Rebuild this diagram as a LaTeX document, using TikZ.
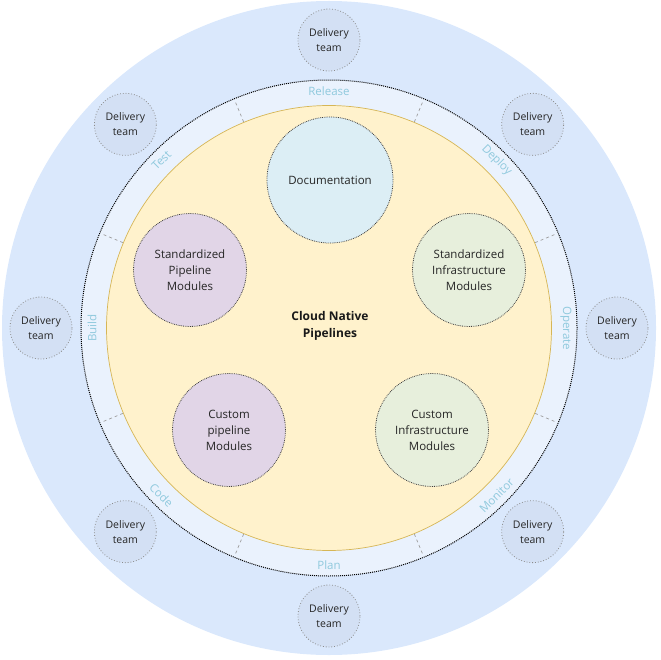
\documentclass[tikz,border=0pt]{standalone}
\usepackage{fontspec}
\setmainfont{Open Sans}
\usetikzlibrary{calc}
\definecolor{outerblue}{HTML}{DAE8FC}
\definecolor{ringfill}{HTML}{EAF2FD}
\definecolor{coreyellow}{HTML}{FFF2CC}
\definecolor{coreborder}{HTML}{D6B656}
\definecolor{dtfill}{HTML}{D3E0F4}
\definecolor{docfill}{HTML}{DCEEF5}
\definecolor{purplefill}{HTML}{E1D5E7}
\definecolor{greenfill}{HTML}{E7EFDC}
\definecolor{lblcol}{HTML}{8FC9DD}
\tikzset{
  dtbox/.style={circle, draw=gray!90, dotted, line width=0.8pt, fill=dtfill, minimum size=62pt, inner sep=0pt, align=center,
    font=\fontsize{10.5}{15}\selectfont, text=black!85},
  modbox/.style={circle, draw=black!75, densely dotted, line width=0.8pt, minimum size=113pt, inner sep=0pt, align=center,
    font=\fontsize{11.5}{16}\selectfont, text=black!85},
  stagelbl/.style={font=\fontsize{11.5}{13}\selectfont, text=lblcol, inner sep=0pt},
  sepline/.style={draw=gray!75, dashed, line width=0.7pt}
}
\begin{document}
\begin{tikzpicture}[x=1pt,y=-1pt]
\useasboundingbox (0,0) rectangle (660,660);
\coordinate (C) at (329,328);
\fill[outerblue] (C) circle (327pt);
\draw[fill=ringfill, densely dotted, line width=1pt] (C) circle (248pt);
\node[circle, fill=coreyellow, draw=coreborder, line width=0.7pt, minimum size=445pt, inner sep=0pt] (core) at (C) {};
\foreach \a in {22.5,67.5,...,337.5}
  \draw[sepline] ($(C)+(\a:223pt)$) -- ($(C)+(\a:247pt)$);
% stage labels
\node[stagelbl] (release) at ($(C)+(90:237pt)$) {Release};
\node[stagelbl, rotate=-45] (deploy) at ($(C)+(45:237pt)$) {Deploy};
\node[stagelbl, rotate=-90] (operate) at ($(C)+(0:237pt)$) {Operate};
\node[stagelbl, rotate=45] (monitor) at ($(C)+(-45:237pt)$) {Monitor};
\node[stagelbl] (plan) at ($(C)+(-90:237pt)$) {Plan};
\node[stagelbl, rotate=-45] (code) at ($(C)+(-135:237pt)$) {Code};
\node[stagelbl, rotate=90] (build) at ($(C)+(180:237pt)$) {Build};
\node[stagelbl, rotate=45] (test) at ($(C)+(135:237pt)$) {Test};
% delivery teams
\foreach \a/\n in {90/dtA,45/dtB,0/dtC,-45/dtD,-90/dtE,-135/dtF,180/dtG,135/dtH}
  \node[dtbox] (\n) at ($(C)+(\a:288pt)$) {Delivery\\team};
% modules
\node[modbox, fill=docfill, minimum size=126pt] (doc) at (330,180) {Documentation};
\node[modbox, fill=purplefill] (spm) at (190,270) {Standardized\\Pipeline\\Modules};
\node[modbox, fill=greenfill] (sim) at (469,270) {Standardized\\Infrastructure\\Modules};
\node[modbox, fill=purplefill] (cpm) at (229,430) {Custom\\pipeline\\Modules};
\node[modbox, fill=greenfill] (cim) at (432,430) {Custom\\Infrastructure\\Modules};
\node[align=center, font=\bfseries\fontsize{12}{17}\selectfont, text=black!90] (title) at (330,326) {Cloud Native\\Pipelines};
\end{tikzpicture}
\end{document}
